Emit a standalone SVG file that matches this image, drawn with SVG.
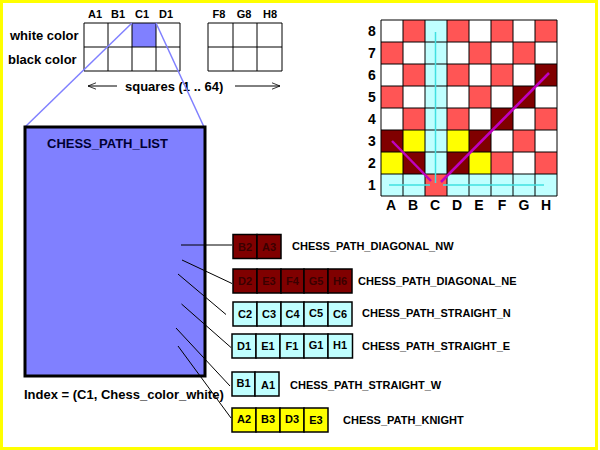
<svg xmlns="http://www.w3.org/2000/svg" width="600" height="450" viewBox="0 0 600 450">
<style>
text{font-family:"Liberation Sans",Arial,sans-serif;font-weight:bold;}
.lbl{font-size:11px;fill:#000;}
.big{font-size:13px;fill:#000;}
.cell{stroke:#000;stroke-width:1.5;}
.br{fill:#800000;}
.cy{fill:#c0ffff;}
.ye{fill:#ffff00;}
.rd{fill:#ff5555;}
.ct{font-size:11px;text-anchor:middle;fill:#000;}
.ctb{font-size:11px;text-anchor:middle;fill:#3a0000;}
.grid{stroke:#000;stroke-width:1;fill:none;}
.conn{stroke:#000;stroke-width:1;fill:none;}
.bd{font-size:14px;text-anchor:middle;fill:#000;}
</style>
<defs>
<marker id="open" viewBox="0 0 10 10" refX="10" refY="5" markerWidth="8" markerHeight="8" orient="auto-start-reverse" markerUnits="userSpaceOnUse">
<path d="M0,1 L10,5 L0,9" fill="none" stroke="#000" stroke-width="1"/>
</marker>
</defs>
<rect x="0" y="0" width="600" height="450" fill="#fff"/>
<rect x="1.5" y="1.5" width="595" height="447" fill="none" stroke="#ffff00" stroke-width="3"/>

<g id="squares-table">
<rect x="132" y="23" width="24" height="24" fill="#8080ff"/>
<path class="grid" d="M84,23H180M84,47H180M84,71H180M84,23V71M108,23V71M132,23V71M156,23V71M180,23V71"/>
<path class="grid" d="M208,23H282M208,47H282M208,71H282M208,23V71M233,23V71M257,23V71M282,23V71"/>
<text class="lbl" x="95" y="18" text-anchor="middle">A1</text>
<text class="lbl" x="118" y="18" text-anchor="middle">B1</text>
<text class="lbl" x="142" y="18" text-anchor="middle">C1</text>
<text class="lbl" x="166" y="18" text-anchor="middle">D1</text>
<text class="lbl" x="219" y="18" text-anchor="middle">F8</text>
<text class="lbl" x="244" y="18" text-anchor="middle">G8</text>
<text class="lbl" x="270" y="18" text-anchor="middle">H8</text>
<text class="big" x="10" y="40">white color</text>
<text class="big" x="8" y="64">black color</text>
<text class="big" x="125" y="91">squares (1 .. 64)</text>
<line x1="117" y1="86" x2="88" y2="86" stroke="#000" stroke-width="1" marker-end="url(#open)"/>
<line x1="235" y1="86" x2="280" y2="86" stroke="#000" stroke-width="1" marker-end="url(#open)"/>
</g>

<g id="zoom-lines">
<line x1="132" y1="23" x2="25" y2="127" stroke="#8080ff" stroke-width="1.5"/>
<line x1="156" y1="23" x2="204" y2="127" stroke="#8080ff" stroke-width="1.5"/>
</g>

<g id="chess-path-list">
<rect x="25" y="127" width="180" height="249" fill="#8080ff" stroke="#000" stroke-width="3"/>
<text x="47" y="148" style="font-size:13px;fill:#000033">CHESS_PATH_LIST</text>
<text class="big" x="24" y="399">Index = (C1, Chess_color_white)</text>
</g>

<g id="board">
<rect x="381" y="20" width="176" height="176" fill="#fff"/>
<!-- rank 8 -->
<rect class="rd" x="403" y="20" width="22" height="22"/>
<rect class="cy" x="425" y="20" width="22" height="22"/>
<rect class="rd" x="447" y="20" width="22" height="22"/>
<rect class="rd" x="491" y="20" width="22" height="22"/>
<rect class="rd" x="535" y="20" width="22" height="22"/>
<!-- rank 7 -->
<rect class="rd" x="381" y="42" width="22" height="22"/>
<rect class="cy" x="425" y="42" width="22" height="22"/>
<rect class="rd" x="469" y="42" width="22" height="22"/>
<rect class="rd" x="513" y="42" width="22" height="22"/>
<!-- rank 6 -->
<rect class="rd" x="403" y="64" width="22" height="22"/>
<rect class="cy" x="425" y="64" width="22" height="22"/>
<rect class="rd" x="447" y="64" width="22" height="22"/>
<rect class="rd" x="491" y="64" width="22" height="22"/>
<rect class="br" x="535" y="64" width="22" height="22"/>
<!-- rank 5 -->
<rect class="rd" x="381" y="86" width="22" height="22"/>
<rect class="cy" x="425" y="86" width="22" height="22"/>
<rect class="rd" x="469" y="86" width="22" height="22"/>
<rect class="br" x="513" y="86" width="22" height="22"/>
<!-- rank 4 -->
<rect class="rd" x="403" y="108" width="22" height="22"/>
<rect class="cy" x="425" y="108" width="22" height="22"/>
<rect class="rd" x="447" y="108" width="22" height="22"/>
<rect class="br" x="491" y="108" width="22" height="22"/>
<rect class="rd" x="535" y="108" width="22" height="22"/>
<!-- rank 3 -->
<rect class="br" x="381" y="130" width="22" height="22"/>
<rect class="ye" x="403" y="130" width="22" height="22"/>
<rect class="cy" x="425" y="130" width="22" height="22"/>
<rect class="ye" x="447" y="130" width="22" height="22"/>
<rect class="br" x="469" y="130" width="22" height="22"/>
<rect class="rd" x="513" y="130" width="22" height="22"/>
<!-- rank 2 -->
<rect class="ye" x="381" y="152" width="22" height="22"/>
<rect class="br" x="403" y="152" width="22" height="22"/>
<rect class="cy" x="425" y="152" width="22" height="22"/>
<rect class="br" x="447" y="152" width="22" height="22"/>
<rect class="ye" x="469" y="152" width="22" height="22"/>
<rect class="rd" x="491" y="152" width="22" height="22"/>
<rect class="rd" x="535" y="152" width="22" height="22"/>
<!-- rank 1 -->
<rect class="cy" x="381" y="174" width="44" height="22"/>
<rect class="rd" x="425" y="174" width="22" height="22"/>
<rect class="cy" x="447" y="174" width="110" height="22"/>
<path class="grid" d="M381,20H557M381,42H557M381,64H557M381,86H557M381,108H557M381,130H557M381,152H557M381,174H557M381,196H557M381,20V196M403,20V196M425,20V196M447,20V196M469,20V196M491,20V196M513,20V196M535,20V196M557,20V196"/>
<g stroke="#40e0e0" stroke-width="1.5">
<line x1="435.5" y1="32" x2="435.5" y2="183"/>
<line x1="389" y1="185" x2="430" y2="185"/>
<line x1="443" y1="185" x2="544" y2="185"/>
</g>
<g stroke="#c000c0" stroke-width="2.5">
<line x1="392" y1="141" x2="431" y2="181"/>
<line x1="441" y1="182" x2="549" y2="73"/>
</g>
<text class="bd" x="372" y="36">8</text>
<text class="bd" x="372" y="58">7</text>
<text class="bd" x="372" y="80">6</text>
<text class="bd" x="372" y="102">5</text>
<text class="bd" x="372" y="124">4</text>
<text class="bd" x="372" y="146">3</text>
<text class="bd" x="372" y="168">2</text>
<text class="bd" x="372" y="190">1</text>
<text class="bd" x="391" y="210">A</text>
<text class="bd" x="413" y="210">B</text>
<text class="bd" x="435" y="210">C</text>
<text class="bd" x="457" y="210">D</text>
<text class="bd" x="479" y="210">E</text>
<text class="bd" x="502" y="210">F</text>
<text class="bd" x="524" y="210">G</text>
<text class="bd" x="546" y="210">H</text>
</g>

<g id="connectors">
<line class="conn" x1="181" y1="245" x2="232" y2="245"/>
<line class="conn" x1="182" y1="260" x2="232" y2="283.5"/>
<line class="conn" x1="178" y1="274" x2="226" y2="314.5"/>
<line class="conn" x1="181.5" y1="304" x2="231" y2="347.5"/>
<line class="conn" x1="176" y1="328" x2="230" y2="386"/>
<line class="conn" x1="178" y1="346" x2="231" y2="418"/>
</g>

<g id="path-diagonal-nw">
<rect class="cell br" x="233" y="234.5" width="24" height="24"/>
<rect class="cell br" x="257" y="234.5" width="24" height="24"/>
<text class="ctb" x="245" y="250.5">B2</text>
<text class="ctb" x="269" y="250.5">A3</text>
<text class="lbl" x="292" y="250">CHESS_PATH_DIAGONAL_NW</text>
</g>

<g id="path-diagonal-ne">
<rect class="cell br" x="233" y="269" width="24" height="24"/>
<rect class="cell br" x="257" y="269" width="24" height="24"/>
<rect class="cell br" x="281" y="269" width="23" height="24"/>
<rect class="cell br" x="304" y="269" width="24" height="24"/>
<rect class="cell br" x="328" y="269" width="24" height="24"/>
<text class="ctb" x="245" y="285">D2</text>
<text class="ctb" x="269" y="285">E3</text>
<text class="ctb" x="292.5" y="285">F4</text>
<text class="ctb" x="316" y="285">G5</text>
<text class="ctb" x="340" y="285">H6</text>
<text class="lbl" x="358" y="285">CHESS_PATH_DIAGONAL_NE</text>
</g>

<g id="path-straight-n">
<rect class="cell cy" x="233" y="302" width="24" height="24"/>
<rect class="cell cy" x="257" y="302" width="24" height="24"/>
<rect class="cell cy" x="281" y="302" width="23" height="24"/>
<rect class="cell cy" x="304" y="302" width="24" height="24"/>
<rect class="cell cy" x="328" y="302" width="24" height="24"/>
<text class="ct" x="245" y="318">C2</text>
<text class="ct" x="269" y="318">C3</text>
<text class="ct" x="292.5" y="318">C4</text>
<text class="ct" x="316" y="317">C5</text>
<text class="ct" x="340" y="318">C6</text>
<text class="lbl" x="362" y="317">CHESS_PATH_STRAIGHT_N</text>
</g>

<g id="path-straight-e">
<rect class="cell cy" x="232" y="334" width="24" height="24"/>
<rect class="cell cy" x="256" y="334" width="24" height="24"/>
<rect class="cell cy" x="280" y="334" width="24" height="24"/>
<rect class="cell cy" x="304" y="334" width="24" height="24"/>
<rect class="cell cy" x="328" y="334" width="24.5" height="24"/>
<text class="ct" x="244" y="350">D1</text>
<text class="ct" x="268" y="350">E1</text>
<text class="ct" x="292" y="350">F1</text>
<text class="ct" x="316" y="349">G1</text>
<text class="ct" x="340" y="349">H1</text>
<text class="lbl" x="362" y="350">CHESS_PATH_STRAIGHT_E</text>
</g>

<g id="path-straight-w">
<rect class="cell cy" x="232" y="372" width="23" height="24"/>
<rect class="cell cy" x="255" y="372" width="24" height="24"/>
<text class="ct" x="243.5" y="387">B1</text>
<text class="ct" x="268" y="389">A1</text>
<text class="lbl" x="290" y="389">CHESS_PATH_STRAIGHT_W</text>
</g>

<g id="path-knight">
<rect class="cell ye" x="232" y="408" width="24" height="24"/>
<rect class="cell ye" x="256" y="408" width="24" height="24"/>
<rect class="cell ye" x="280" y="408" width="24" height="24"/>
<rect class="cell ye" x="304" y="408" width="24" height="24"/>
<text class="ct" x="244" y="423">A2</text>
<text class="ct" x="268" y="423">B3</text>
<text class="ct" x="292" y="423">D3</text>
<text class="ct" x="316" y="424">E3</text>
<text class="lbl" x="343" y="424">CHESS_PATH_KNIGHT</text>
</g>
</svg>
